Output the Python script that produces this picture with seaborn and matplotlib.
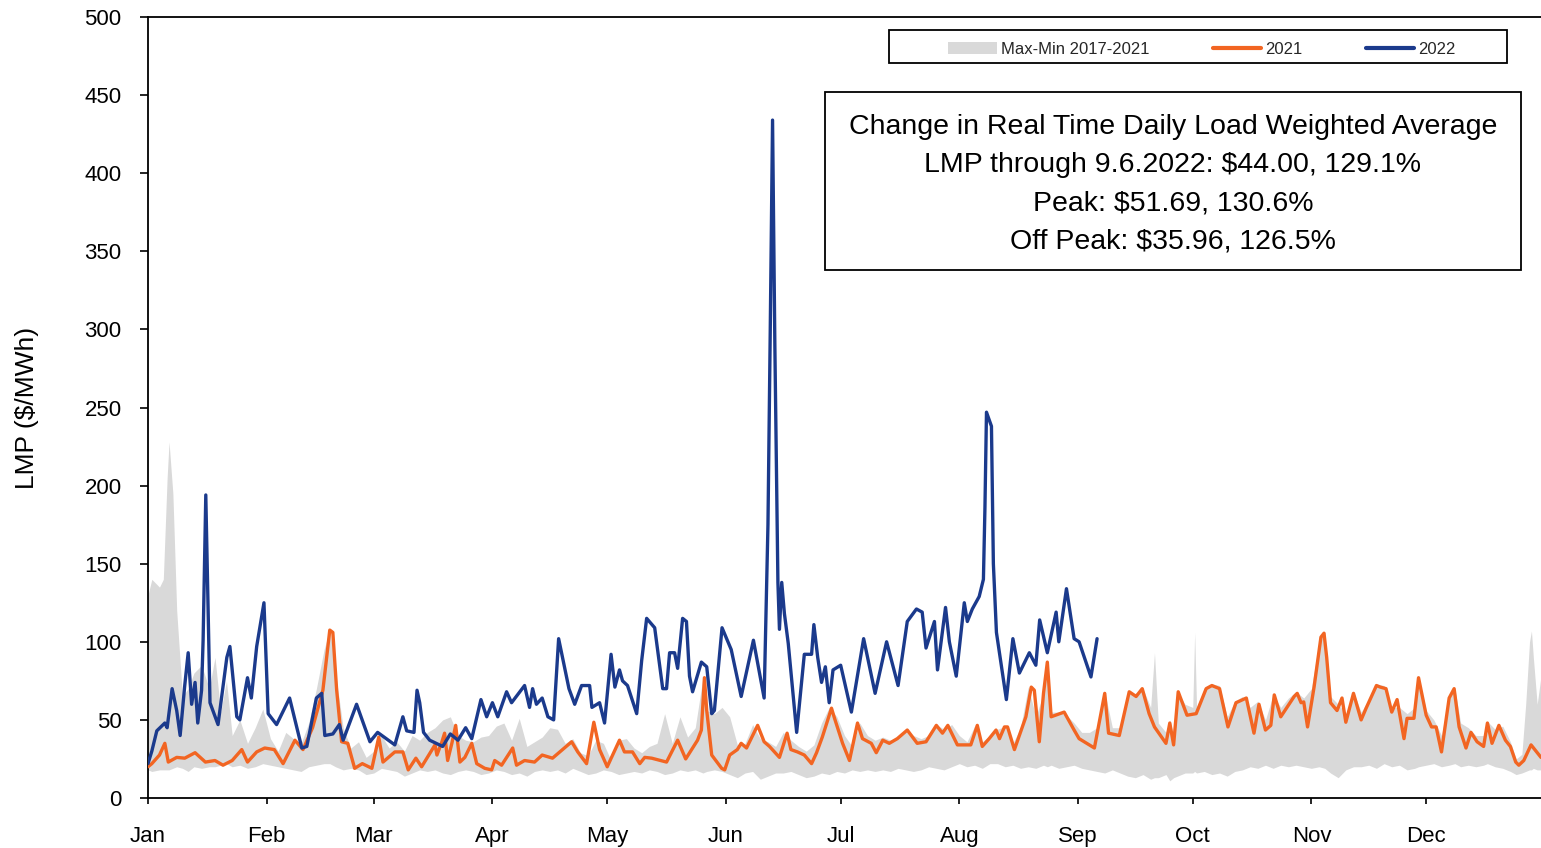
import matplotlib
matplotlib.use("Agg")
import matplotlib.pyplot as plt
import seaborn as sns
from matplotlib import font_manager
from matplotlib.lines import Line2D
from matplotlib.patches import Patch, Rectangle

# %% Data (day of year, $/MWh)
days_2022 = [0, 1, 2.3, 4.4, 5, 6.3, 7.5, 8.4, 9.6, 10.5, 11.4, 12.3, 13, 14, 14.4, 15.1, 16.2,
             18.3, 20.6, 21.4, 23.2, 24, 26, 27, 28.4, 30.3, 31.4, 33.6, 37, 40.2, 41.5, 44,
             45.4, 46.2, 48.3, 50, 51, 54.5, 58, 60, 64.5, 66.6, 67.6, 69.5, 70.3, 71, 72,
             73.6, 77, 79, 81, 83, 84.6, 87, 88.5, 90, 91.4, 93.7, 95, 98.4, 99.7, 100.5,
             101.5, 103, 104.5, 106, 107.3, 109, 110, 111.5, 113.3, 115.4, 116, 118, 119.3,
             121, 122, 123.2, 124, 125.3, 127.7, 129, 130.3, 132.4, 134.5, 135.5, 136.3,
             137.6, 138.4, 139.7, 140.7, 141.5, 142.3, 144.6, 146, 147.3, 148, 150, 152.4,
             155, 158.2, 161, 162, 162.6, 163.2, 163.8, 164.6, 165, 165.6, 166.3, 167.3,
             169.5, 171.5, 173.4, 174, 175, 176, 177, 178, 179, 181, 183.8, 187, 190, 193,
             196, 198.4, 200.8, 202.3, 203.3, 205.5, 206.3, 208.4, 209.4, 211.2, 213.3, 214.1,
             215.4, 217.2, 218.3, 218.7, 219.1, 220.4, 220.9, 221.7, 224.3, 226, 227.7,
             230.3, 232, 233, 235, 237.3, 238, 240, 242, 243.3, 246.4, 248]
lmp_2022 = [22, 30, 43, 48, 45, 70, 56, 40, 72, 93, 60, 74, 48, 69, 101, 194, 61,
            47, 90, 97, 52, 50, 77, 64, 97, 125, 54, 47, 64, 32, 33, 64,
            67, 40, 41, 47, 37, 60, 36, 42, 34, 52, 43, 42, 69, 61, 42,
            37, 33, 41, 37, 45, 38, 63, 52, 61, 52, 68, 61, 72, 58, 70,
            60, 64, 52, 50, 102, 82, 70, 60, 72, 72, 58, 61, 48,
            92, 71, 82, 75, 72, 54, 88, 115, 109, 70, 70, 93,
            93, 83, 115, 113, 78, 68, 87, 84, 54, 56, 109, 95,
            65, 101, 64, 175, 300, 434, 290, 138, 108, 138, 118, 99,
            42, 92, 92, 111, 90, 74, 84, 61, 82, 85, 55, 102, 67, 100,
            72, 113, 121, 119, 96, 113, 82, 122, 100, 78, 125, 113,
            121, 129, 140, 186, 247, 238, 150, 106, 63, 102, 80,
            93, 85, 114, 93, 119, 100, 134, 102, 100, 77.5, 102]

days_2021 = [0, 1, 3, 4.4, 5.3, 7.5, 9.6, 12.3, 15, 17.5, 19.6, 22, 24.5, 26, 28.4, 30.5, 33,
             35.3, 38.4, 40.5, 43, 45.7, 47.5, 48.3, 49.3, 50.6, 52.2, 54, 56, 58.5, 60.3,
             61.4, 64.5, 66.6, 68, 70, 71.5, 75, 75.5, 76.8, 77.5, 78.3, 79.4, 80.4, 81.5,
             82.8, 84.6, 85.9, 88, 89.8, 90.6, 92.4, 95.3, 96.3, 98.4, 101, 103, 105.7,
             107.6, 110.7, 112.3, 114.6, 116.5, 118, 120, 123.2, 124.5, 126.6, 128.5,
             129.8, 131.6, 135.5, 138.4, 140.5, 143.6, 144.6, 145.4, 146, 147.3, 149.9,
             150.7, 152, 154, 155, 156.4, 159.3, 161, 162.4, 163.7, 165, 167, 168, 169.7,
             171.5, 173.4, 174.7, 176.2, 178.6, 179.4, 181.5, 183.3, 185.4, 186.7, 189,
             190.3, 192, 193.7, 195.8, 198.4, 201, 203.3, 206, 207.6, 209, 211.5, 215,
             216.7, 218, 219.8, 221.6, 222.5, 223.8, 224.6, 226.4, 229.4, 230.8, 231.6,
             232.9, 234, 235, 236, 239.4, 242, 243.3, 247.3, 250, 251, 253.8, 256.4,
             258.2, 259.8, 261.6, 263, 266, 267, 268, 269.2, 271.5, 273.9, 276.5, 278,
             280, 282.2, 284.3, 287, 289, 290.3, 292, 293.4, 294.3, 296, 299.5, 300.3,
             301.3, 302, 303, 304.7, 306.5, 307.3, 308, 309, 310.7, 312, 313, 315, 317,
             318.3, 321, 322, 323.5, 325, 326.4, 328.2, 329, 330.8, 332, 334, 335.4,
             336.6, 338, 340, 341.3, 342.6, 344.4, 345.7, 347.3, 349, 350, 351.2, 353,
             354.7, 356, 357.4, 358.2, 359.5, 361.4, 364]
lmp_2021 = [20, 22, 27.5, 35, 23, 26, 25.5, 29, 23, 24, 21, 24, 31, 23, 29.5, 32, 31,
            22, 37, 31, 45, 69, 107.5, 106, 69, 36, 35, 19, 22, 19, 39,
            23, 29.5, 29.5, 18, 25.5, 20, 34, 27.5, 36, 41.5, 24, 35, 46.5, 23,
            26, 35, 22, 19, 18, 24, 21, 32, 21, 24, 23, 27.5, 25.5,
            29.5, 36, 29.5, 22, 48.5, 31, 20, 37, 29.5, 29.5, 22,
            26, 25.5, 23, 37, 25, 37, 43.5, 77, 56, 27.5, 19,
            18, 27.5, 31, 35, 32, 46.5, 36, 33, 29.5, 26, 41.5, 31, 29.5,
            27.5, 22, 29, 39, 57.5, 51, 35, 24, 48, 38, 35,
            29, 37, 35, 38, 43.5, 35, 36, 46.5, 41.5, 46.5, 34, 34,
            46.5, 33, 38, 43.5, 38, 45.5, 45.5, 31, 52, 71, 69,
            36, 67, 87, 52, 55, 43.5, 38, 32, 67, 41.5, 40, 68,
            65, 70, 54, 45.5, 35, 48, 34, 68, 53, 54, 70, 72,
            70, 45.5, 61, 64, 41.5, 60, 43.5, 46.5, 66, 52, 65, 67,
            61, 61.5, 45.5, 71, 103, 105.5, 90, 61, 56, 64, 48.5, 67, 50,
            57.5, 72, 71, 70, 55, 63, 38, 51, 51, 77, 53, 45.5,
            45.5, 29.5, 64, 70, 45.5, 32, 42, 36, 33, 48, 35, 46.5,
            37, 33, 23, 21, 24, 34, 26]

band_days = [0, 1, 3, 4, 5, 5.5, 6.5, 7.5, 9, 10.5, 12, 14, 16, 17.5, 19, 20.5, 22, 24, 26,
             28, 30, 32, 34, 36, 38, 40, 42, 44, 46, 47.5, 49, 51, 53, 55, 57, 59, 61, 63,
             65, 67, 69, 71, 73, 75, 77, 79, 81, 83, 85, 87, 89, 91, 93, 95, 97, 99, 101,
             103, 105, 107, 109, 111, 113, 115, 117, 119, 121, 123, 125, 127, 129, 131,
             133, 135, 137, 139, 141, 143, 145, 146, 148, 150, 152, 154, 156, 158, 160,
             162, 164, 166, 168, 170, 172, 174, 176, 178, 180, 182, 184, 186, 188, 190,
             192, 194, 196, 198, 200, 202, 204, 206, 208, 210, 212, 214, 216, 218, 220,
             222, 224, 226, 228, 230, 232, 234, 235, 236, 238, 240, 242, 244, 246, 248,
             250, 252, 254, 256, 258, 260, 262, 263, 264, 266, 267, 268, 269, 271, 273,
             273.5, 274, 276, 278, 280, 282, 284, 286, 288, 290, 292, 294, 296, 298, 300,
             302, 304, 306, 307.5, 309, 311, 313, 315, 317, 319, 321, 323, 325, 327, 329,
             331, 332, 334, 336, 338, 340, 341.5, 343, 345, 347, 349, 350, 352, 354, 356,
             357.5, 359, 360, 361, 361.5, 362, 363, 364]
band_max = [130, 140, 135, 140, 205, 228, 195, 120, 65, 70, 80, 85, 70, 90, 55, 75, 40, 50, 35,
            45, 57, 38, 30, 42, 38, 35, 48, 70, 95, 108, 80, 45, 32, 36, 26, 30, 40, 32,
            36, 30, 40, 37, 42, 45, 50, 52, 40, 37, 36, 39, 40, 46, 48, 37, 51, 33, 36,
            39, 45, 44, 35, 38, 29, 27, 37, 35, 24, 37, 38, 32, 29, 33,
            35, 54, 35, 52, 39, 45, 77, 56, 54, 58, 52, 34, 35, 47, 38,
            36, 33, 42, 37, 33, 30, 34, 48, 58, 52, 40, 33, 48, 40, 37,
            39, 37, 39, 44, 40, 38, 40, 47, 44, 47, 40, 36, 46, 36, 40,
            44, 46, 35, 45, 71, 52, 67, 87, 55, 55, 53, 48, 42, 42, 45,
            68, 45, 45, 66, 67, 70, 58, 93, 48, 42, 50, 40, 68, 60, 58,
            106, 58, 70, 73, 72, 52, 62, 65, 58, 62, 50, 66, 58, 64, 68,
            64, 70, 100, 106, 65, 60, 54, 68, 55, 63, 73, 72, 58, 58, 54,
            58, 78, 56, 50, 40, 66, 70, 48, 45, 40, 40, 49, 44, 46, 36,
            25, 28, 60, 100, 107, 90, 60, 78]
band_min = [18, 17, 18, 18, 18, 18, 19, 20, 19, 17, 20, 19, 20, 20, 21, 22, 20, 21, 19,
            20, 22, 21, 20, 19, 18, 17, 20, 21, 22, 22, 20, 18, 19, 18, 15, 16, 19, 18,
            17, 14, 16, 18, 17, 18, 16, 15, 17, 18, 17, 15, 16, 18, 17, 15, 16, 14, 17,
            18, 17, 18, 16, 19, 17, 15, 16, 18, 17, 15, 16, 17, 16, 18,
            17, 15, 16, 18, 17, 18, 16, 17, 18, 17, 15, 13, 16, 17, 12,
            14, 16, 16, 17, 15, 13, 14, 16, 15, 17, 16, 18, 17, 18, 17,
            18, 17, 19, 18, 17, 18, 20, 19, 18, 20, 22, 20, 21, 19, 22,
            22, 20, 21, 19, 20, 19, 21, 20, 21, 19, 20, 21, 19, 18, 17,
            16, 18, 16, 14, 13, 15, 12, 13, 13, 15, 11, 13, 14, 16, 16,
            17, 16, 17, 15, 16, 14, 17, 18, 20, 19, 21, 19, 21, 20, 21,
            20, 19, 20, 19, 16, 13, 18, 20, 20, 21, 19, 22, 20, 21, 18,
            19, 20, 21, 22, 20, 21, 22, 20, 21, 20, 21, 22, 20, 19, 17,
            15, 16, 17, 18, 18, 19, 18, 18]

month_starts = [0, 31, 59, 90, 120, 151, 181, 212, 243, 273, 304, 334]
month_labels = ["Jan", "Feb", "Mar", "Apr", "May", "Jun", "Jul", "Aug", "Sep", "Oct", "Nov", "Dec"]

note_lines = [
    "Change in Real Time Daily Load Weighted Average",
    "LMP through 9.6.2022: $44.00, 129.1%",
    "Peak: $51.69, 130.6%",
    "Off Peak: $35.96, 126.5%",
]

# %% Style
sns.set_theme(style="ticks")
installed = {f.name for f in font_manager.fontManager.ttflist}
narrow = "Liberation Sans Narrow" if "Liberation Sans Narrow" in installed else "Liberation Sans"
plt.rcParams["font.family"] = ["Liberation Sans", "DejaVu Sans"]

COLORS = {"2021": "#f26522", "2022": "#1b3a8c", "band": "#d9d9d9"}

fig = plt.figure(figsize=(15.41, 8.48), dpi=100)
ax = fig.add_axes([148 / 1541, 50 / 848, 1393 / 1541, 781 / 848])

ax.fill_between(band_days, band_min, band_max, color=COLORS["band"], lw=0, zorder=1)
sns.lineplot(x=days_2021, y=lmp_2021, color=COLORS["2021"], lw=2.4, estimator=None, ax=ax, zorder=3)
sns.lineplot(x=days_2022, y=lmp_2022, color=COLORS["2022"], lw=2.4, estimator=None, ax=ax, zorder=4)

ax.set_xlim(0, 364)
ax.set_ylim(0, 500)
ax.set_xticks(month_starts)
ax.set_xticklabels(month_labels)
ax.set_yticks(range(0, 501, 50))
ax.tick_params(axis="y", direction="out", length=6, width=1.2, pad=13, labelsize=16, colors="black")
ax.tick_params(axis="x", direction="out", length=4, width=1.2, pad=16, labelsize=16, colors="black")
for side in ["left", "bottom", "top"]:
    ax.spines[side].set_color("black")
    ax.spines[side].set_linewidth(1.3)
ax.spines["right"].set_visible(False)
ax.set_xlabel("")
ax.set_ylabel("LMP ($/MWh)", fontsize=19, family=[narrow, "DejaVu Sans"], color="black")
ax.yaxis.set_label_coords(-0.078, 0.5)

# Legend box
ax.add_patch(Rectangle((0.532, 0.941), 0.4437, 0.042, transform=ax.transAxes,
                       fill=True, fc="white", ec="black", lw=1.3, zorder=5))
handles = [
    Patch(facecolor=COLORS["band"], edgecolor="none", label="Max-Min 2017-2021"),
    Line2D([], [], color=COLORS["2021"], lw=3, label="2021"),
    Line2D([], [], color=COLORS["2022"], lw=3, label="2022"),
]
leg = ax.legend(handles=handles, loc="center", bbox_to_anchor=(0.7566, 0.959), ncol=3,
                frameon=False, handlelength=2.9, handletextpad=0.25, columnspacing=3.8,
                prop={"family": [narrow, "DejaVu Sans"], "size": 12})
leg.set_zorder(6)

# Annotation box
ax.add_patch(Rectangle((0.486, 0.676), 0.4996, 0.228, transform=ax.transAxes,
                       fill=True, fc="white", ec="black", lw=1.3, zorder=5))
ax.text(0.7358, 0.786, "\n".join(note_lines), transform=ax.transAxes, ha="center", va="center",
        fontsize=20.5, linespacing=1.6, family=[narrow, "DejaVu Sans"], color="black", zorder=6)

fig.savefig("out.png", dpi=100)
